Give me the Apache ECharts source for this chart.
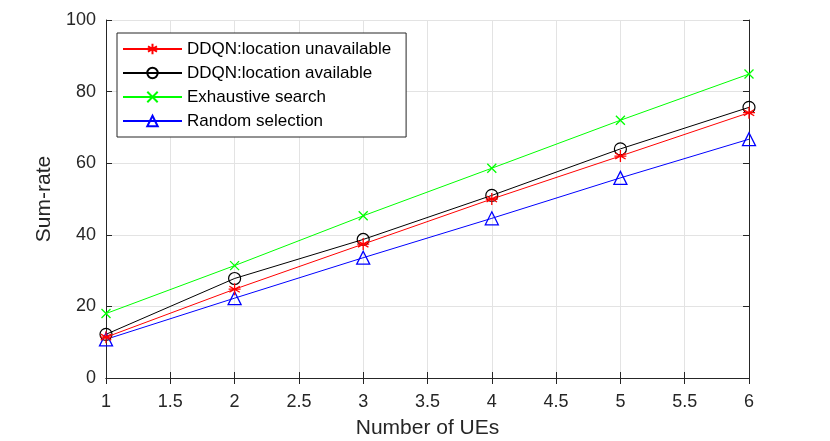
<!DOCTYPE html>
<html>
<head>
<meta charset="utf-8">
<script src="https://cdn.jsdelivr.net/npm/echarts@6/dist/echarts.min.js"></script>
<style>
  html, body { margin: 0; padding: 0; background: #fff; }
  #chart { width: 830px; height: 441px; }
</style>
</head>
<body>
<div id="chart"></div>
<script>
// number of UEs
var ues = [1, 2, 3, 4, 5, 6];

// sum-rate per method
var locUnavailable = [11.4, 24.8, 37.4, 50.0, 62.0, 74.1];
var locAvailable = [12.2, 27.8, 38.7, 51.0, 64.0, 75.6];
var exhaustive = [18.0, 31.4, 45.3, 58.6, 72.0, 84.9];
var randomSel = [10.8, 22.3, 33.6, 44.6, 55.9, 66.7];

var names = ['DDQN:location unavailable', 'DDQN:location available', 'Exhaustive search', 'Random selection'];

function pairs(vals) {
    return ues.map(function (u, i) { return [u, vals[i]]; });
}

var txt = '#262626';
var font = 'Liberation Sans, Arial, sans-serif';

var asterisk = 'path://M0,-1L0,1M-0.87,-0.5L0.87,0.5M-0.87,0.5L0.87,-0.5M-1,0L1,0';
var cross = 'path://M-1,-1L1,1M-1,1L1,-1';

function axisCommon(extra) {
    var base = {
        axisLine: { show: true, lineStyle: { color: txt, width: 1 } },
        axisTick: { show: true, inside: true, length: 6, lineStyle: { color: txt } },
        axisLabel: { color: txt, fontSize: 18, fontFamily: font },
        splitLine: { show: false }
    };
    for (var k in extra) base[k] = extra[k];
    return base;
}

var chart = echarts.init(document.getElementById('chart'));
chart.setOption({
    animation: false,
    grid: { left: 106, right: 81, top: 20, bottom: 63, outerBoundsMode: 'none' },
    legend: {
        orient: 'vertical',
        left: 117,
        top: 33,
        padding: [6, 15, 6, 5],
        itemWidth: 59,
        itemHeight: 13,
        itemGap: 4,
        backgroundColor: '#fff',
        borderColor: txt,
        borderWidth: 1,
        textStyle: { color: '#000', fontSize: 17, lineHeight: 20, fontFamily: font },
        data: names
    },
    xAxis: [
        axisCommon({
            type: 'value', min: 1, max: 6, interval: 0.5,
            name: 'Number of UEs', nameLocation: 'middle', nameGap: 40,
            nameTextStyle: { color: txt, fontSize: 21, fontFamily: font },
            axisLabel: { color: txt, fontSize: 18, fontFamily: font, margin: 15 },
            splitLine: { show: true, lineStyle: { color: '#e3e3e3', width: 1 } }
        }),
        axisCommon({
            type: 'value', min: 1, max: 6, interval: 0.5, position: 'top',
            axisLabel: { show: false }
        })
    ],
    yAxis: [
        axisCommon({
            type: 'value', min: 0, max: 100, interval: 20,
            name: 'Sum-rate', nameLocation: 'middle', nameGap: 47,
            nameTextStyle: { color: txt, fontSize: 21, fontFamily: font },
            axisLabel: { color: txt, fontSize: 18, fontFamily: font, margin: 10 },
            splitLine: { show: true, lineStyle: { color: '#e3e3e3', width: 1 } }
        }),
        axisCommon({
            type: 'value', min: 0, max: 100, interval: 20, position: 'right',
            axisLabel: { show: false }
        })
    ],
    series: [
        {
            name: names[0], type: 'line', data: pairs(locUnavailable),
            symbol: asterisk, symbolSize: 12,
            lineStyle: { color: '#ff0000', width: 1 },
            itemStyle: { color: '#ff0000', borderColor: '#ff0000', borderWidth: 1.3 },
            z: 4
        },
        {
            name: names[1], type: 'line', data: pairs(locAvailable),
            symbol: 'circle', symbolSize: 12,
            lineStyle: { color: '#000000', width: 1 },
            itemStyle: { color: 'rgba(0,0,0,0)', borderColor: '#000000', borderWidth: 1.2 },
            z: 3
        },
        {
            name: names[2], type: 'line', data: pairs(exhaustive),
            symbol: cross, symbolSize: 9,
            lineStyle: { color: '#00ff00', width: 1 },
            itemStyle: { color: '#00ff00', borderColor: '#00ff00', borderWidth: 1.3 },
            z: 3
        },
        {
            name: names[3], type: 'line', data: pairs(randomSel),
            symbol: 'triangle', symbolSize: 13,
            lineStyle: { color: '#0000ff', width: 1 },
            itemStyle: { color: 'rgba(0,0,0,0)', borderColor: '#0000ff', borderWidth: 1.3 },
            z: 3
        }
    ]
});
</script>
</body>
</html>
